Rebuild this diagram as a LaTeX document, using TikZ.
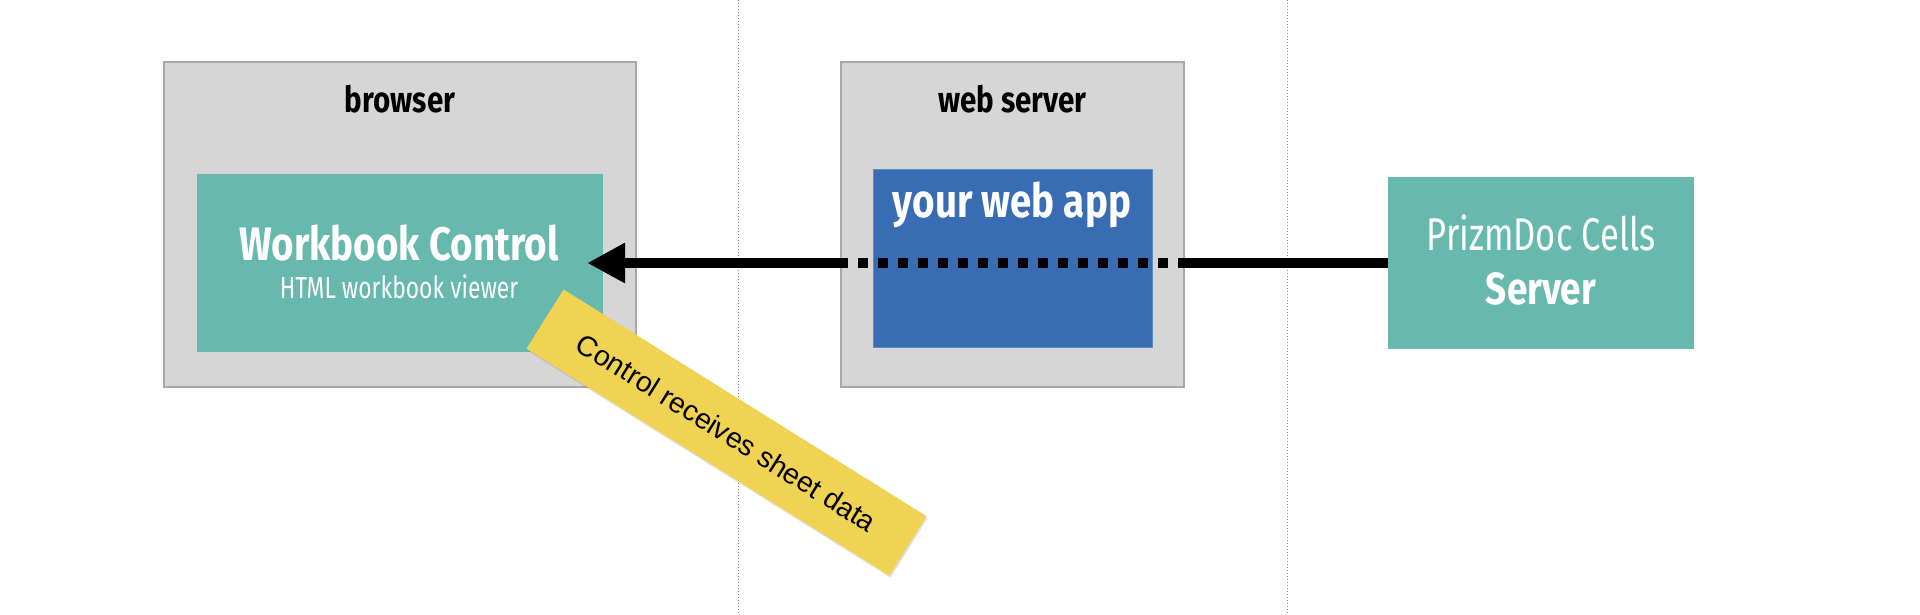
\documentclass[tikz,border=0pt]{standalone}
\usepackage{fontspec}
\usepackage{tikz}
\usetikzlibrary{arrows.meta}
\usetikzlibrary{shadows}
\usepackage{xcolor}
\setmainfont{Fira Sans}
\newfontfamily\CondFont[FakeStretch=0.75]{Fira Sans}
\newfontfamily\CondBold[FakeStretch=0.82]{Fira Sans Bold}
\newfontfamily\NoteFont{Liberation Sans}
\definecolor{ColHost}{RGB}{214,214,214}
\definecolor{ColHostLine}{RGB}{168,168,168}
\definecolor{ColTeal}{RGB}{103,184,173}
\definecolor{ColBlue}{RGB}{56,109,179}
\definecolor{ColNote}{RGB}{240,211,82}
\tikzstyle{HostBox}=[rectangle,draw=ColHostLine,fill=ColHost,line width=2.5pt,inner sep=0pt]
\tikzstyle{TealBox}=[rectangle,fill=ColTeal,inner sep=0pt]
\tikzstyle{BlueBox}=[rectangle,fill=ColBlue,draw=ColBlue!80!white,line width=1pt,inner sep=0pt]
\tikzstyle{HostLabel}=[anchor=base,inner sep=0pt,
font=\CondBold\fontsize{36}{38}\selectfont]
\tikzstyle{BoxLabel}=[anchor=base,inner sep=0pt,text=white]
\tikzstyle{FlowEdge}=[black,line width=10pt]
\tikzstyle{TierLine}=[ColHostLine!80!black,line width=1pt,dash pattern=on 1pt off 2pt]
\tikzstyle{NoteBox}=[rectangle,fill=ColNote,minimum width=428pt,minimum height=70pt,inner sep=0pt,
font=\NoteFont\fontsize{28.5}{30}\selectfont,drop shadow={opacity=0.25,shadow xshift=1pt,shadow yshift=-2pt}]

\begin{document}
\begin{tikzpicture}[x=1pt,y=-1pt]
        \useasboundingbox[fill=white](0,0)rectangle(1920,614);
        \draw[TierLine](738,0)--(738,614);
        \draw[TierLine](1287,0)--(1287,614);
        % hosts
        \node[HostBox,minimum width=472pt,minimum height=325pt](browser)at(400,224.5){};
        \node[HostBox,minimum width=343pt,minimum height=325pt](srv)at(1012.5,224.5){};
        \node[HostLabel](browserlbl)at(400,112){browser};
        \node[HostLabel](srvlbl)at(1012.5,112){web server};
        % components
        \node[TealBox,minimum width=406pt,minimum height=178pt](wbk)at(400,263){};
        \node[BlueBox,minimum width=279pt,minimum height=178pt](app)at(1012.5,258){};
        \node[TealBox,minimum width=306pt,minimum height=172pt](prizm)at(1541,263){};
        \node[BoxLabel,font=\CondBold\fontsize{47}{49}\selectfont](wbklbl)at(399,260){Workbook Control};
        \node[BoxLabel,font=\CondFont\fontsize{30.5}{32}\selectfont](wbksub)at(399,298){HTML workbook viewer};
        \node[BoxLabel,font=\CondBold\fontsize{47}{49}\selectfont](applbl)at(1012,217){your web app};
        \node[BoxLabel,font=\CondFont\fontsize{46}{48}\selectfont](prizmlbl)at(1541,250){PrizmDoc Cells};
        \node[BoxLabel,font=\CondBold\fontsize{45}{47}\selectfont](prizmsub)at(1541,304){Server};
        % sheet data flow
        \coordinate(inR)at(1178,263);
        \coordinate(inL)at(848,263);
        \draw[FlowEdge](prizm.west)--(inR);
        \draw[FlowEdge,dash pattern=on 10pt off 10pt,dash phase=10pt](inR)--(inL);
        \draw[FlowEdge,-{Triangle[length=38pt,width=38pt]}](inL)--([xshift=-16pt]wbk.east);
        \node[NoteBox,rotate=-32](note)at(726.5,432.5){Control receives sheet data};
    \end{tikzpicture}
\end{document}
